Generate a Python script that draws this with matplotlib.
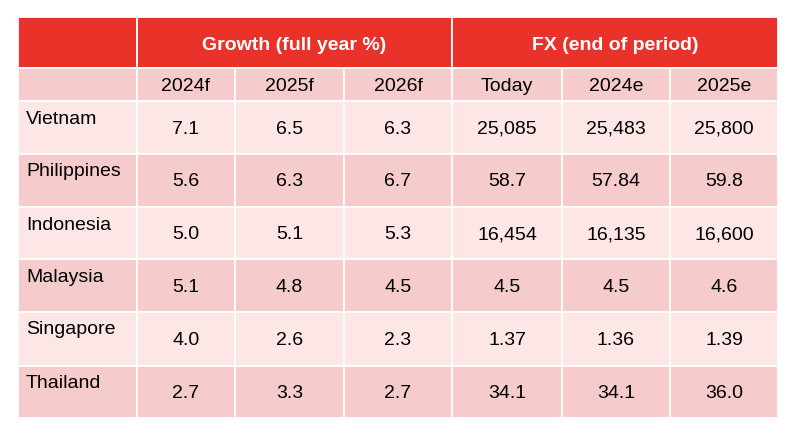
import matplotlib.pyplot as plt
from matplotlib.patches import Rectangle

plt.rcParams['font.family'] = ['Liberation Sans', 'DejaVu Sans']

# table content
group_labels = ['Growth (full year %)', 'FX (end of period)']
sub_labels = ['2024f', '2025f', '2026f', 'Today', '2024e', '2025e']
countries = ['Vietnam', 'Philippines', 'Indonesia', 'Malaysia', 'Singapore', 'Thailand']
growth = [
    ['7.1', '6.5', '6.3'],
    ['5.6', '6.3', '6.7'],
    ['5.0', '5.1', '5.3'],
    ['5.1', '4.8', '4.5'],
    ['4.0', '2.6', '2.3'],
    ['2.7', '3.3', '2.7'],
]
fx = [
    ['25,085', '25,483', '25,800'],
    ['58.7', '57.84', '59.8'],
    ['16,454', '16,135', '16,600'],
    ['4.5', '4.5', '4.6'],
    ['1.37', '1.36', '1.39'],
    ['34.1', '34.1', '36.0'],
]

# layout in pixels
col_edges = [18, 137, 235, 344, 452, 562, 670, 778]
row_edges = [17, 68, 101, 154, 207, 259, 312, 366, 418]

red = '#E8322A'
dark = '#F5CBCB'
light = '#FCE6E6'
fs = 14

fig = plt.figure(figsize=(8, 4.43), dpi=100)
ax = fig.add_axes([0, 0, 1, 1])
ax.set_xlim(0, 800)
ax.set_ylim(443, 0)
ax.axis('off')


def cell(x0, x1, y0, y1, color):
    ax.add_patch(Rectangle((x0, y0), x1 - x0, y1 - y0, facecolor=color,
                           edgecolor='white', linewidth=1.3))


# top header row
cell(col_edges[0], col_edges[1], row_edges[0], row_edges[1], red)
cell(col_edges[1], col_edges[4], row_edges[0], row_edges[1], red)
cell(col_edges[4], col_edges[7], row_edges[0], row_edges[1], red)
ymid = (row_edges[0] + row_edges[1]) / 2 + 2.5
ax.text((col_edges[1] + col_edges[4]) / 2, ymid, group_labels[0], color='white',
        fontsize=fs, fontweight='bold', ha='center', va='center')
ax.text((col_edges[4] + col_edges[7]) / 2, ymid, group_labels[1], color='white',
        fontsize=fs, fontweight='bold', ha='center', va='center')

# sub header row
cell(col_edges[0], col_edges[1], row_edges[1], row_edges[2], dark)
for j, lab in enumerate(sub_labels):
    cell(col_edges[j + 1], col_edges[j + 2], row_edges[1], row_edges[2], dark)
    ax.text((col_edges[j + 1] + col_edges[j + 2]) / 2, (row_edges[1] + row_edges[2]) / 2 + 2,
            lab, fontsize=fs, ha='center', va='center', color='black')

# data rows
for i, name in enumerate(countries):
    y0, y1 = row_edges[i + 2], row_edges[i + 3]
    color = light if i % 2 == 0 else dark
    cell(col_edges[0], col_edges[1], y0, y1, color)
    ax.text(col_edges[0] + 8, y0 + 18, name, fontsize=fs, ha='left', va='center')
    vals = growth[i] + fx[i]
    for j, v in enumerate(vals):
        cell(col_edges[j + 1], col_edges[j + 2], y0, y1, color)
        ax.text((col_edges[j + 1] + col_edges[j + 2]) / 2, (y0 + y1) / 2 + 1.5, v,
                fontsize=fs, ha='center', va='center')

fig.savefig('out.png', dpi=100)
